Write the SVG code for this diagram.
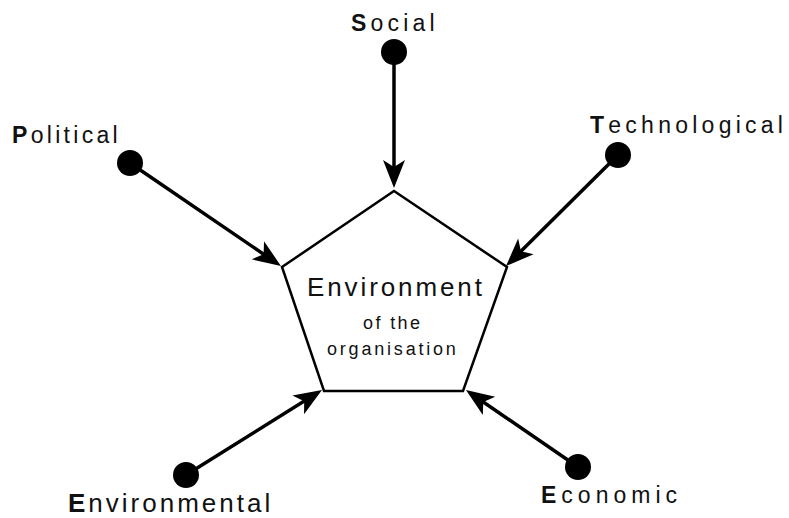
<svg xmlns="http://www.w3.org/2000/svg" width="789" height="518" viewBox="0 0 789 518">
<style>
.lbl{font-family:"Liberation Sans",Arial,sans-serif;font-size:23px;letter-spacing:3.5px;fill:#111}
.b{font-weight:bold}
.conn{stroke:#000;stroke-width:3.5;fill:none;marker-end:url(#ah)}
.dot{fill:#000}
.pent{fill:#fff;stroke:#000;stroke-width:2.5}
</style>
<defs>
<marker id="ah" markerUnits="userSpaceOnUse" viewBox="-30 -13 32 26" refX="-10" refY="0" markerWidth="32" markerHeight="26" orient="auto">
<path d="M0,0 L-28,-11 L-21,0 L-28,11 Z" fill="#000"/>
</marker>
</defs>
<g id="center">
<polygon class="pent" points="394,191 507,267 463,391 324,391 282,267"/>
<text class="lbl" x="307" y="296" style="font-size:26px;letter-spacing:2.9px">Environment</text>
<text class="lbl" x="363" y="329" style="font-size:18px;letter-spacing:2.4px">of the</text>
<text class="lbl" x="327" y="355" style="font-size:18px;letter-spacing:2.8px">organisation</text>
</g>
<g id="connectors">
<line class="conn" x1="394" y1="52" x2="394" y2="178"/>
<line class="conn" x1="130" y1="163" x2="272.7" y2="260.4"/>
<line class="conn" x1="618" y1="155" x2="513.1" y2="259"/>
<line class="conn" x1="186" y1="475" x2="313.5" y2="395.3"/>
<line class="conn" x1="578" y1="467" x2="474.2" y2="395.7"/>
</g>
<g id="social">
<circle class="dot" cx="394" cy="52" r="13"/>
<text class="lbl" x="351" y="31" style="letter-spacing:4.2px"><tspan class="b">S</tspan>ocial</text>
</g>
<g id="political">
<circle class="dot" cx="130" cy="163" r="13"/>
<text class="lbl" x="12" y="143" style="letter-spacing:3.3px"><tspan class="b">P</tspan>olitical</text>
</g>
<g id="technological">
<circle class="dot" cx="618" cy="155" r="13"/>
<text class="lbl" x="590" y="133" style="letter-spacing:4.25px"><tspan class="b">T</tspan>echnological</text>
</g>
<g id="environmental">
<circle class="dot" cx="186" cy="475" r="13"/>
<text class="lbl" x="68" y="512" style="font-size:26px;letter-spacing:3px"><tspan class="b">E</tspan>nvironmental</text>
</g>
<g id="economic">
<circle class="dot" cx="578" cy="467" r="13"/>
<text class="lbl" x="541" y="503" style="letter-spacing:5px"><tspan class="b">E</tspan>conomic</text>
</g>
</svg>
